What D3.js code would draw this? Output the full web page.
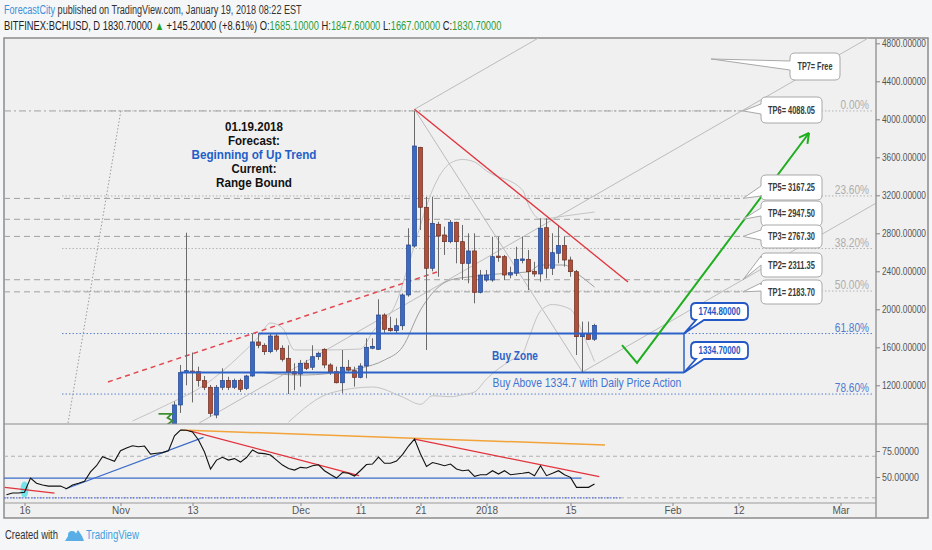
<!DOCTYPE html>
<html lang="en">
<head>
<meta charset="UTF-8" />
<title>BCHUSD daily forecast</title>
<script src="https://d3js.org/d3.v7.min.js"></script>
<style>
  html, body { margin: 0; padding: 0; background: #f5f6f8; font-family: "Liberation Sans", Arial, sans-serif; }
  svg { display: block; }
</style>
</head>
<body>
<svg id="chart" width="932" height="550"></svg>
<script>
// ---- data ----
const firstCandle = "2017-11-10";
const opens  = [640,993,1333,1350,1343,1249,1179,887,1179,1249,1179,1249,1168,1298,1656,1621,1554,1719,1590,1484,1343,1319,1432,1390,1501,1579,1414,1343,1227,1390,1354,1284,1403,1590,1579,1940,1800,1775,1827,2151,2666,3705,3074,2432,2895,2782,2712,2916,2712,2484,2614,2179,2308,2308,2560,2554,2361,2380,2526,2526,2400,2372,2859,2432,2590,2670,2519,2396,1712,1740,1685.1];
const highs  = [1030,1414,2806,1545,1396,1298,1203,1203,1379,1290,1270,1270,1310,1745,1745,1642,1745,1745,1621,1621,1432,1467,1467,1621,1554,1590,1432,1396,1572,1467,1396,1432,1695,1695,2105,1958,1922,1905,2168,2853,4088,3710,3185,3185,2922,2870,2940,2922,2888,2800,2800,2414,2414,2765,2765,2572,2449,2659,2765,2624,2500,2958,2958,2800,2888,2765,2554,2414,1870,1870,1847.6];
const lows   = [600,909,1200,1020,1186,1150,870,853,1150,1150,1160,1130,1150,1290,1590,1520,1537,1554,1450,1108,1150,1186,1361,1361,1467,1380,1310,1220,1116,1343,1186,1274,1274,1580,1572,1747,1764,1747,1782,2133,2650,2835,1572,2400,2343,2572,2695,2484,2308,2274,2063,2168,2290,2290,2500,2308,2326,2350,2484,2203,2343,2290,2326,2361,2484,2449,2343,1519,1334.7,1677,1667];
const closes = [993,1333,1354,1343,1249,1179,905,1179,1249,1179,1249,1158,1298,1656,1621,1554,1719,1579,1474,1343,1319,1432,1379,1501,1537,1414,1343,1227,1390,1361,1284,1403,1600,1610,1940,1790,1775,1827,2151,2677,3719,3074,2432,2905,2772,2712,2916,2712,2484,2614,2179,2361,2361,2554,2554,2361,2385,2526,2530,2396,2372,2853,2432,2596,2670,2519,2396,1712,1740,1684,1830.7];

// Bollinger envelope, read as [date, price]
const bandUpper = [["2017-11-03",824],["2017-11-09",1003],["2017-11-15",1203],["2017-11-21",1519],["2017-11-24",1708],["2017-11-26",1856],["2017-11-28",1803],["2017-11-30",1572],["2017-12-05",1572],["2017-12-11",1582],["2017-12-13",1761],["2017-12-17",2077],["2017-12-19",2466],["2017-12-21",2887],["2017-12-23",3255],["2017-12-26",3540],["2017-12-28",3577],["2017-12-30",3551],["2018-01-01",3456],["2018-01-07",3256],["2018-01-08",3098],["2018-01-10",2950],["2018-01-14",2982],["2018-01-19",3024]];
const bandMiddle = [["2017-11-25",1330],["2017-12-01",1308],["2017-12-11",1382],["2017-12-15",1466],["2017-12-18",1603],["2017-12-21",1993],["2017-12-23",2172],["2017-12-26",2309],["2017-12-29",2340],["2018-01-01",2361],["2018-01-05",2382],["2018-01-08",2393],["2018-01-10",2466],["2018-01-14",2466],["2018-01-16",2382],["2018-01-19",2234]];
const bandLower = [["2017-11-29",813],["2017-12-06",1119],["2017-12-13",1182],["2017-12-18",1077],["2017-12-21",1000],["2017-12-23",1090],["2017-12-26",1080],["2017-12-28",1100],["2017-12-30",1130],["2018-01-01",1266],["2018-01-05",1460],["2018-01-07",1530],["2018-01-08",1688],["2018-01-10",1982],["2018-01-12",2050],["2018-01-15",2000],["2018-01-17",1750],["2018-01-19",1450]];

// oscillator (lower pane), one value a day
const rsiStart = "2017-10-13";
const rsiValues = [33,34.6,34.6,35.3,49,44,42.3,41.3,41.3,41.3,38.8,42.3,44,45.9,55,60.9,69.5,67.3,65.1,75.3,78,80.1,79.1,79.8,72.1,72.8,73.5,75.3,89.7,95.2,95,93.3,85.6,74,57.7,66.3,69,66.3,67.7,64.4,68.8,76,73,72.5,71.2,66.3,61.5,58.2,56.7,59.3,58.7,60.9,61.8,56.1,52.4,49,54.3,53.6,51,56.3,62,62.5,69.2,63.2,63.2,65.4,71.6,79.8,86.5,72.1,60.1,63.9,62.5,60.9,62.5,57.7,56.1,56.7,50.7,52.2,52.2,56.1,52.9,56.1,52.2,52.9,53.6,54.5,51.3,60.9,51.3,53.6,56.1,52.2,49.7,40.1,40.1,40.1,43.3];

// levels
const priceTicks = [1200,1600,2000,2400,2800,3200,3600,4000,4400,4800];
const rsiTicks = [50,75];
const rsiBands = [30,70];
const timeTicks = ["2017-10-16","2017-11-01","2017-11-13","2017-12-01","2017-12-11","2017-12-21","2018-01-01","2018-01-15","2018-02-01","2018-02-12","2018-03-01"];
const timeLabels = ["16","Nov","13","Dec","11","21","2018","15","Feb","12","Mar"];
const tpNames  = ["TP1","TP2","TP3","TP4","TP5","TP6"];
const tpLevels = [2183.70,2311.35,2767.30,2947.50,3167.25,4088.05];
const fibHigh = 4088.05, fibLow = 296.4;
const fibRatios = [0,0.236,0.382,0.5,0.618,0.786];
const fibLabels = ["0.00%","23.60%","38.20%","50.00%","61.80%","78.60%"];
const zoneTop = 1744.8, zoneBottom = 1334.7;

// ---- layout ----
const L = 4, R = 876, FR = 928, T = 38, MB = 424, IB = 502, B = 518;
const utc = s => new Date(s.length > 10 ? s : s + "T00:00:00Z");
const day = 864e5;

const svg = d3.select("#chart");
const x = d3.scaleUtc().domain([utc("2017-10-16"), utc("2018-03-01")]).range([24.5, 840.5]);
const y = d3.scaleLinear().domain([792.6, 4855.8]).range([MB, T]);
const yr = d3.scaleLinear().domain([26, 101]).range([IB, MB]);

// squeeze a text horizontally to a given width (the screenshot font is narrow)
function fit(sel, w) {
  sel.each(function () {
    const len = this.getComputedTextLength();
    if (!len) return;
    const k = w / len;
    const tx = +this.getAttribute("x") || 0, ty = +this.getAttribute("y") || 0;
    this.setAttribute("transform", `translate(${tx},${ty}) scale(${k},1) translate(${-tx},${-ty})`);
  });
  return sel;
}

// header
const h1 = svg.append("text").attr("x", 4).attr("y", 14).attr("font-size", 12).attr("fill", "#333");
h1.append("tspan").attr("fill", "#3d8fd8").text("ForecastCity");
h1.append("tspan").text(" published on TradingView.com, January 19, 2018 08:22 EST");
fit(h1, 298);
const h2 = svg.append("text").attr("x", 4).attr("y", 30).attr("font-size", 12).attr("fill", "#222");
const green = "#2e9e3a";
[["BITFINEX:BCHUSD, D ", "#222"], ["1830.70000 ", "#222"], ["\u25B2 ", "#22a022"], ["+145.20000 (+8.61%) ", "#222"],
 ["O:", "#222"], ["1685.10000 ", green], ["H:", "#222"], ["1847.60000 ", green],
 ["L:", "#222"], ["1667.00000 ", green], ["C:", "#222"], ["1830.70000", green]]
  .forEach(([t, c]) => h2.append("tspan").attr("fill", c).text(t));
fit(h2, 498);

// frame
svg.append("rect").attr("x", L).attr("y", T).attr("width", FR - L).attr("height", B - T)
  .attr("fill", "#f0f0f0").attr("stroke", "#8c8c8c").attr("stroke-width", 1.5);

svg.append("clipPath").attr("id", "mainclip").append("rect")
  .attr("x", L).attr("y", T).attr("width", R - L).attr("height", MB - T);
svg.append("clipPath").attr("id", "rsiclip").append("rect")
  .attr("x", L).attr("y", MB).attr("width", R - L).attr("height", IB - MB);

const main = svg.append("g").attr("clip-path", "url(#mainclip)");

// fib retracement lines
const fibX0 = x(utc("2017-10-22T06:00:00Z"));
const fibG = svg.append("g");
fibRatios.forEach((r, i) => {
  const lv = fibHigh - r * (fibHigh - fibLow);
  const blue = r > 0.6;
  main.append("line").attr("x1", fibX0).attr("x2", R - 3).attr("y1", y(lv)).attr("y2", y(lv))
    .attr("stroke", blue ? "#5d82d0" : "#b4b4b4").attr("stroke-dasharray", "1.5,2").attr("stroke-width", 1);
  fit(fibG.append("text").attr("x", 869).attr("y", y(lv) - 2).attr("text-anchor", "end")
    .attr("font-size", 12).attr("fill", blue ? "#4e7bd0" : "#adadad").text(fibLabels[i]), fibLabels[i].length * 5.7);
});

// target level dashed lines
tpLevels.forEach(v => {
  main.append("line").attr("x1", L).attr("x2", 743).attr("y1", y(v)).attr("y2", y(v))
    .attr("stroke", "#a0a0a0").attr("stroke-dasharray", v > 4000 ? "7,3,2,3" : "6,4").attr("stroke-width", 1);
});

// pitchfork
const P2 = [utc("2017-12-20"), 4105], P3 = [utc("2018-01-17"), 1340];
const mA = [utc("2017-11-14T03:00:00Z"), 803], mB = [utc("2018-02-16T07:00:00Z"), 4225];
const pt = p => [x(p[0]), y(p[1])];
const [ax, ay] = pt(mA), [bx, by] = pt(mB);
const dx = bx - ax, dy = by - ay;
const ext = ([px, py]) => [px + dx * 3, py + dy * 3];
const gray = "#bcbcbc";
function seg(g, a, b, col, w, dash) {
  return g.append("line").attr("x1", a[0]).attr("y1", a[1]).attr("x2", b[0]).attr("y2", b[1])
    .attr("stroke", col).attr("stroke-width", w || 1).attr("stroke-dasharray", dash || null);
}
seg(main, [ax, ay], ext([ax, ay]), gray);
seg(main, pt(P2), ext(pt(P2)), gray);
seg(main, pt(P3), ext(pt(P3)), gray);
seg(main, pt(P2), pt(P3), gray);
seg(main, pt([utc("2017-10-23T06:00:00Z"), 803]), pt([utc("2017-11-01T02:00:00Z"), 4098]), "#9a9a9a", 1, "1.5,2");

// bands
const bandLine = d3.line().x(d => x(utc(d[0]))).y(d => y(d[1])).curve(d3.curveMonotoneX);
[bandUpper, bandMiddle, bandLower].forEach((b, i) => {
  main.append("path").attr("d", bandLine(b)).attr("fill", "none")
    .attr("stroke", i === 1 ? "#a0a0a0" : "#c4c4c4").attr("stroke-width", 1);
});

// red dashed support line
seg(main, pt([utc("2017-10-29T22:00:00Z"), 1235]), pt([utc("2017-12-23T18:00:00Z"), 2393]), "#e2474f", 1.5, "5,4");

// candles
const candles = opens.map((o, i) => ({
  date: new Date(utc(firstCandle).getTime() + i * day), o, h: highs[i], l: lows[i], c: closes[i]
}));
const cg = main.append("g").selectAll("g").data(candles).enter().append("g");
cg.append("line").attr("x1", d => x(d.date)).attr("x2", d => x(d.date))
  .attr("y1", d => y(d.h)).attr("y2", d => y(d.l)).attr("stroke", "#6a6a6a").attr("stroke-width", 1);
cg.append("rect").attr("x", d => x(d.date) - 2).attr("width", 4)
  .attr("y", d => y(Math.max(d.o, d.c)))
  .attr("height", d => Math.max(1.5, Math.abs(y(d.o) - y(d.c))))
  .attr("fill", d => d.c >= d.o ? "#3a6bc2" : "#b0503a")
  .attr("stroke", d => d.c >= d.o ? "#24438a" : "#6a2b1e").attr("stroke-width", 0.7);

// green start marker
const gm = pt([utc("2017-11-09T12:00:00Z"), 900]);
main.append("path").attr("fill", "none").attr("stroke", "#3f8f2f").attr("stroke-width", 1.8)
  .attr("d", `M${gm[0] - 13},${gm[1]} H${gm[0]} L${gm[0] - 4},${gm[1] + 4} L${gm[0] + 1},${gm[1] + 7} L${gm[0] - 3},${gm[1] + 10} L${gm[0] + 1},${gm[1] + 13} M${gm[0] - 13},${gm[1] + 13} H${gm[0] + 1}`);

// buy zone
const zoneCol = "#2d62c8";
const zr = x(utc("2018-02-02T22:00:00Z"));
seg(main, [x(utc("2017-11-24")), y(zoneTop)], [zr, y(zoneTop)], zoneCol, 2);
seg(main, [x(utc("2017-11-11")), y(zoneBottom)], [zr, y(zoneBottom)], zoneCol, 2);
seg(main, [zr, y(zoneTop)], [zr, y(zoneBottom)], zoneCol, 1.5);
fit(main.append("text").attr("x", 515).attr("y", 360).attr("text-anchor", "middle").attr("font-size", 13)
  .attr("font-weight", "bold").attr("fill", "#2d62c8").text("Buy Zone"), 46);
fit(main.append("text").attr("x", 492.5).attr("y", 387.5).attr("font-size", 12.5)
  .attr("fill", "#3f74d4").text("Buy Above 1334.7 with Daily Price Action"), 189);

// red down trend
seg(main, pt([utc("2017-12-20"), 4105]), pt([utc("2018-01-24T14:00:00Z"), 2287]), "#e2323c", 1.3);

// green forecast arrow
const ga = [pt([utc("2018-01-23T14:00:00Z"), 1624]), pt([utc("2018-01-26T02:00:00Z"), 1435]), pt([utc("2018-02-23T18:00:00Z"), 3856])];
main.append("path").attr("d", d3.line()(ga)).attr("fill", "none").attr("stroke", "#1fae1f").attr("stroke-width", 2);
const ang = Math.atan2(ga[2][1] - ga[1][1], ga[2][0] - ga[1][0]);
[-0.5, 0.5].forEach(a => {
  seg(main, ga[2], [ga[2][0] - 11 * Math.cos(ang + a), ga[2][1] - 11 * Math.sin(ang + a)], "#1fae1f", 2);
});

// forecast note
const note = [["01.19.2018", "#111", 58], ["Forecast:", "#111", 52], ["Beginning of Up Trend", "#1f5fc8", 125], ["Current:", "#111", 45], ["Range Bound", "#111", 76]];
note.forEach(([t, c, w], i) => {
  fit(main.append("text").attr("x", 254).attr("y", 131 + i * 13.9).attr("text-anchor", "middle")
    .attr("font-size", 12).attr("font-weight", "bold").attr("fill", c).text(t), w);
});

// callouts
function callout(g, box, side, a, b, tip, stroke, sw) {
  const [x0, y0, x1, y1] = box, r = 5;
  let d = `M${x0 + r},${y0} H${x1 - r} Q${x1},${y0} ${x1},${y0 + r} V${y1 - r} Q${x1},${y1} ${x1 - r},${y1}`;
  if (side === "bottom") {
    d += ` H${b} L${tip[0]},${tip[1]} L${a},${y1} H${x0 + r} Q${x0},${y1} ${x0},${y1 - r} V${y0 + r} Q${x0},${y0} ${x0 + r},${y0}Z`;
  } else {
    d += ` H${x0 + r} Q${x0},${y1} ${x0},${y1 - r} V${b} L${tip[0]},${tip[1]} L${x0},${a} V${y0 + r} Q${x0},${y0} ${x0 + r},${y0}Z`;
  }
  g.append("path").attr("d", d).attr("fill", "#fff").attr("stroke", stroke).attr("stroke-width", sw);
}
const tpBoxes = [[761, 280, 822, 304, 283, 291], [761, 253, 822, 277, 256, 265], [761, 225, 822, 248, 230, 240],
                 [761, 201, 822, 226, 208, 216], [761, 175, 822, 200, 186, 196], [761, 97, 822, 123, 104, 114]];
const callG = svg.append("g");
callout(callG, [790, 53, 840, 80], "left", 61, 70, pt([utc("2018-02-07T10:00:00Z"), 4635]), "#a8a8a8", 1);
fit(callG.append("text").attr("x", 815).attr("y", 70).attr("text-anchor", "middle").attr("font-size", 10.5)
  .attr("font-weight", "bold").attr("fill", "#3a3a3a").text("TP7= Free"), 35);
[5, 4, 3, 2, 1, 0].forEach(i => {
  const bx = tpBoxes[i];
  callout(callG, bx.slice(0, 4), "left", bx[4], bx[5], [743, y(tpLevels[i])], "#a8a8a8", 1);
  fit(callG.append("text").attr("x", (bx[0] + bx[2]) / 2).attr("y", (bx[1] + bx[3]) / 2 + 4)
    .attr("text-anchor", "middle").attr("font-size", 10.5).attr("font-weight", "bold").attr("fill", "#3a3a3a")
    .text(`${tpNames[i]}= ${tpLevels[i].toFixed(2)}`), 47);
});
[[zoneTop, 303], [zoneBottom, 342]].forEach(([v, top]) => {
  callout(callG, [691, top, 748, top + 17], "bottom", 696, 704, [zr, y(v)], "#2458c4", 1.8);
  fit(callG.append("text").attr("x", 719.5).attr("y", top + 12.5).attr("text-anchor", "middle").attr("font-size", 10.5)
    .attr("font-weight", "bold").attr("fill", "#2458c4").text(v.toFixed(5)), 42);
});

// oscillator pane
const osc = svg.append("g").attr("clip-path", "url(#rsiclip)");
rsiBands.forEach(v => seg(osc, [L, yr(v)], [R, yr(v)], "#b0b0b0", 1, "4,3"));
seg(osc, [L, yr(30)], [x(utc("2018-01-23T10:00:00Z")), yr(30)], "#5b6fd6", 1.2, "1.5,1.5");
seg(osc, [L, yr(49)], [x(utc("2018-01-16T20:00:00Z")), yr(49)], "#3d6cc8", 1.3);
osc.append("ellipse").attr("cx", x(utc("2017-10-16"))).attr("cy", yr(38)).attr("rx", 4).attr("ry", 8)
  .attr("fill", "#5fe0ea").attr("opacity", 0.85);
const rsiPts = rsiValues.map((v, i) => [new Date(utc(rsiStart).getTime() + i * day), v]);
seg(osc, [x(utc("2017-10-12T17:00:00Z")), yr(40.1)], [x(utc("2017-10-21")), yr(34.6)], "#e2323c", 1.3);
seg(osc, [x(utc("2017-10-22T19:00:00Z")), yr(38.5)], [x(utc("2017-11-14T20:00:00Z")), yr(88.2)], "#3d6cc8", 1.3);
seg(osc, [x(utc("2017-11-11T02:00:00Z")), yr(95.2)], [x(utc("2018-01-20T18:00:00Z")), yr(80.8)], "#f2a33a", 1.5);
seg(osc, [x(utc("2017-11-12T13:00:00Z")), yr(94.5)], [x(utc("2017-12-10T18:00:00Z")), yr(51.25)], "#e2323c", 1.3);
seg(osc, [x(utc("2017-12-20")), yr(86.5)], [x(utc("2018-01-19T19:00:00Z")), yr(50.3)], "#e2323c", 1.3);
osc.append("path").attr("d", d3.line().x(d => x(d[0])).y(d => yr(d[1]))(rsiPts))
  .attr("fill", "none").attr("stroke", "#111").attr("stroke-width", 1.1);

// pane separators and axes
seg(svg, [L, MB], [FR, MB], "#8c8c8c", 1.2);
seg(svg, [L, IB + 1], [R, IB + 1], "#9a9a9a", 1);
seg(svg, [R, T], [R, B], "#9a9a9a", 1.5);

const yAxis = svg.append("g").attr("transform", `translate(${R},0)`)
  .call(d3.axisRight(y).tickValues(priceTicks).tickFormat(d3.format(".5f")).tickSize(4).tickPadding(2));
const xAxis = svg.append("g").attr("transform", `translate(0,${IB + 1})`)
  .call(d3.axisBottom(x).tickValues(timeTicks.map(utc)).tickFormat((d, i) => timeLabels[i]).tickSize(3).tickPadding(1));
const rAxis = svg.append("g").attr("transform", `translate(${R},0)`)
  .call(d3.axisRight(yr).tickValues(rsiTicks).tickFormat(d3.format(".5f")).tickSize(4).tickPadding(2));
[yAxis, xAxis, rAxis].forEach(g => {
  g.attr("font-family", null).attr("font-size", null);
  g.select(".domain").remove();
  g.selectAll("line").attr("stroke", "#888");
  g.selectAll("text").attr("fill", "#555").attr("font-size", 10.5);
});
yAxis.selectAll("text").call(fit, 44);
rAxis.selectAll("text").call(fit, 37);
xAxis.selectAll("text").attr("font-size", 10);

// footer
fit(svg.append("text").attr("x", 5).attr("y", 539).attr("font-size", 12).attr("fill", "#333").text("Created with"), 53);
const logo = svg.append("g").attr("fill", "#5aaee6");
logo.append("path").attr("d", "M65,541 L70,533 L74,537 L78,530 L82,536 L84,541 Z");
logo.append("circle").attr("cx", 72).attr("cy", 535).attr("r", 4);
fit(svg.append("text").attr("x", 86).attr("y", 539).attr("font-size", 12).attr("fill", "#41a1e0").text("TradingView"), 53);
</script>
</body>
</html>
